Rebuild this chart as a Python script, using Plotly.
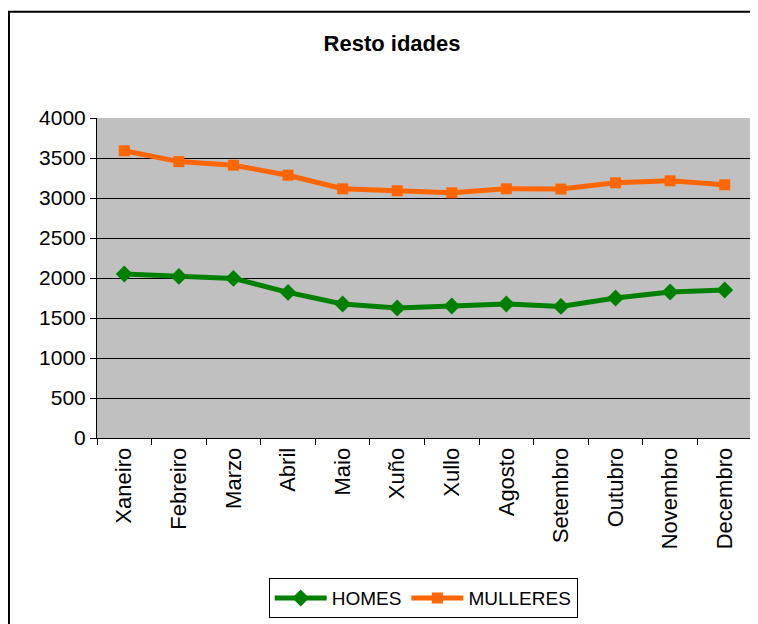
import plotly.graph_objects as go

months = ["Xaneiro", "Febreiro", "Marzo", "Abril", "Maio", "Xuño", "Xullo",
          "Agosto", "Setembro", "Outubro", "Novembro", "Decembro"]
homes = [2050, 2020, 1995, 1820, 1675, 1625, 1650, 1675, 1645, 1750, 1825, 1850]
mulleres = [3590, 3455, 3410, 3285, 3115, 3090, 3065, 3115, 3112, 3190, 3215, 3165]
y_ticks = [0, 500, 1000, 1500, 2000, 2500, 3000, 3500, 4000]

fig = go.Figure()
fig.add_trace(go.Scatter(x=months, y=homes, name="HOMES", mode="lines+markers",
                         line=dict(color="#008000", width=5),
                         marker=dict(symbol="diamond", size=13, color="#008000")))
fig.add_trace(go.Scatter(x=months, y=mulleres, name="MULLERES", mode="lines+markers",
                         line=dict(color="#FF6600", width=5),
                         marker=dict(symbol="square", size=11, color="#FF6600")))

# page has an 8px body margin, so the figure is 8px smaller and offset
fig.update_layout(
    width=750, height=616,
    margin=dict(l=89, r=6, t=110, b=184),
    paper_bgcolor="white", plot_bgcolor="#C0C0C0",
    font=dict(family="Liberation Sans, Arial", color="black", size=21),
    title=dict(text="<b>Resto idades</b>", x=(384 / 750), xanchor="center",
               y=1 - 35 / 616, yanchor="middle", font=dict(size=22)),
    showlegend=True,
    legend=dict(orientation="h", x=0.498, xanchor="center", y=-0.438, yanchor="top",
                bordercolor="black", borderwidth=1, bgcolor="white",
                font=dict(size=19), tracegroupgap=0, itemwidth=52),
    xaxis=dict(type="category", tickangle=-90, showgrid=False, showline=True,
               linecolor="black", linewidth=1, ticks="outside", ticklen=6,
               tickcolor="black", tickson="boundaries", range=[-0.5, 11.5],
               tickfont=dict(size=22)),
    yaxis=dict(range=[0, 4000], tickvals=y_ticks, showgrid=True, gridcolor="black",
               gridwidth=1, showline=True, linecolor="black", linewidth=1,
               ticks="outside", ticklen=6, tickcolor="black", zeroline=False,
               tickfont=dict(size=21)),
    shapes=[dict(type="rect", xref="paper", yref="paper", x0=-0.1344, x1=1.2,
                 y0=-0.7, y1=1.332, line=dict(color="black", width=2),
                 fillcolor="rgba(0,0,0,0)", layer="below")],
)

fig.write_html("out.html")
